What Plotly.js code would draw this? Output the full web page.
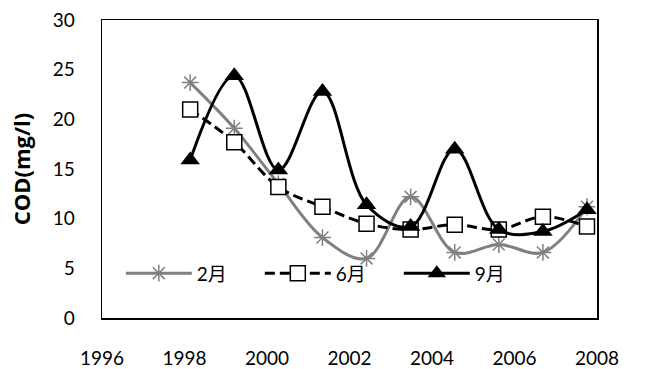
<!DOCTYPE html>
<html>
<head>
<meta charset="utf-8">
<script src="https://cdn.plot.ly/plotly-3.0.1.min.js"></script>
<style>html,body{margin:0;padding:0;background:#fff;}#chart{width:658px;height:369px;}</style>
</head>
<body>
<div id="chart"></div>
<script>
const years = [1998, 1999, 2000, 2001, 2002, 2003, 2004, 2005, 2006, 2007];
const febValues = [23.7, 19.1, 13.5, 8.1, 6.0, 12.2, 6.6, 7.4, 6.6, 11.2];
const junValues = [21.0, 17.7, 13.2, 11.2, 9.5, 8.9, 9.4, 8.9, 10.2, 9.2];
const sepValues = [15.9, 24.4, 14.9, 22.8, 11.4, 9.2, 17.0, 8.9, 8.7, 10.9];
const seriesNames = ['2月', '6月', '9月'];
const xTickYears = [1996, 1998, 2000, 2002, 2004, 2006, 2008];
const yTickValues = [0, 5, 10, 15, 20, 25, 30];
const yTitle = 'COD(mg/l)';

const font = 'Lato, "Noto Sans CJK JP", sans-serif';

const traces = [
  {
    x: years, y: febValues, name: seriesNames[0], type: 'scatter', mode: 'lines+markers',
    line: {color: '#808080', width: 3, shape: 'spline', smoothing: 1},
    marker: {symbol: 'asterisk-open', size: 14, color: '#808080', line: {color: '#808080', width: 1.5}}
  },
  {
    x: years, y: junValues, name: seriesNames[1], type: 'scatter', mode: 'lines+markers',
    line: {color: '#000000', width: 3, dash: '10px,5px', shape: 'spline', smoothing: 1},
    marker: {symbol: 'square', size: 15, color: '#ffffff', line: {color: '#000000', width: 1.5}}
  },
  {
    x: years, y: sepValues, name: seriesNames[2], type: 'scatter', mode: 'lines+markers',
    line: {color: '#000000', width: 3, shape: 'spline', smoothing: 1},
    marker: {symbol: 'triangle-up', size: 17, color: '#000000'}
  },
  {
    x: xTickYears, y: xTickYears.map(() => null), xaxis: 'x2', type: 'scatter', mode: 'markers',
    showlegend: false, hoverinfo: 'skip'
  }
];

const layout = {
  width: 658, height: 369,
  margin: {l: 102, r: 61, t: 20, b: 51},
  paper_bgcolor: '#ffffff', plot_bgcolor: '#ffffff',
  font: {family: font, size: 19, color: '#000000'},
  showlegend: true,
  legend: {
    orientation: 'h', x: 0.038, y: 0.15, xanchor: 'left', yanchor: 'middle',
    bgcolor: 'rgba(0,0,0,0)', itemwidth: 66, entrywidth: 58, entrywidthmode: 'pixels',
    font: {family: font, size: 19, color: '#000000'}, traceorder: 'normal'
  },
  xaxis: {
    range: [1996, 2007.227], showticklabels: false, showgrid: false, zeroline: false,
    showline: true, linecolor: '#000000', linewidth: 1.5, mirror: true, ticks: ''
  },
  xaxis2: {
    overlaying: 'x', anchor: 'y', side: 'bottom', range: [1996, 2008],
    tickvals: xTickYears, ticktext: xTickYears.map(String), ticks: '',
    showgrid: false, zeroline: false, showline: false, ticklabelstandoff: 27,
    tickfont: {family: font, size: 19, color: '#000000'}
  },
  yaxis: {
    range: [0, 30], tickvals: yTickValues, ticks: '', showgrid: false, zeroline: false,
    showline: true, linecolor: '#000000', linewidth: 1.5, mirror: true,
    ticklabelstandoff: 22, tickfont: {family: font, size: 19, color: '#000000'},
    title: {text: yTitle, font: {family: '"Open Sans", sans-serif', size: 22, color: '#000000', weight: 'bold'}, standoff: 16}
  }
};

Plotly.newPlot('chart', traces, layout, {displayModeBar: false, staticPlot: true});
</script>
</body>
</html>
